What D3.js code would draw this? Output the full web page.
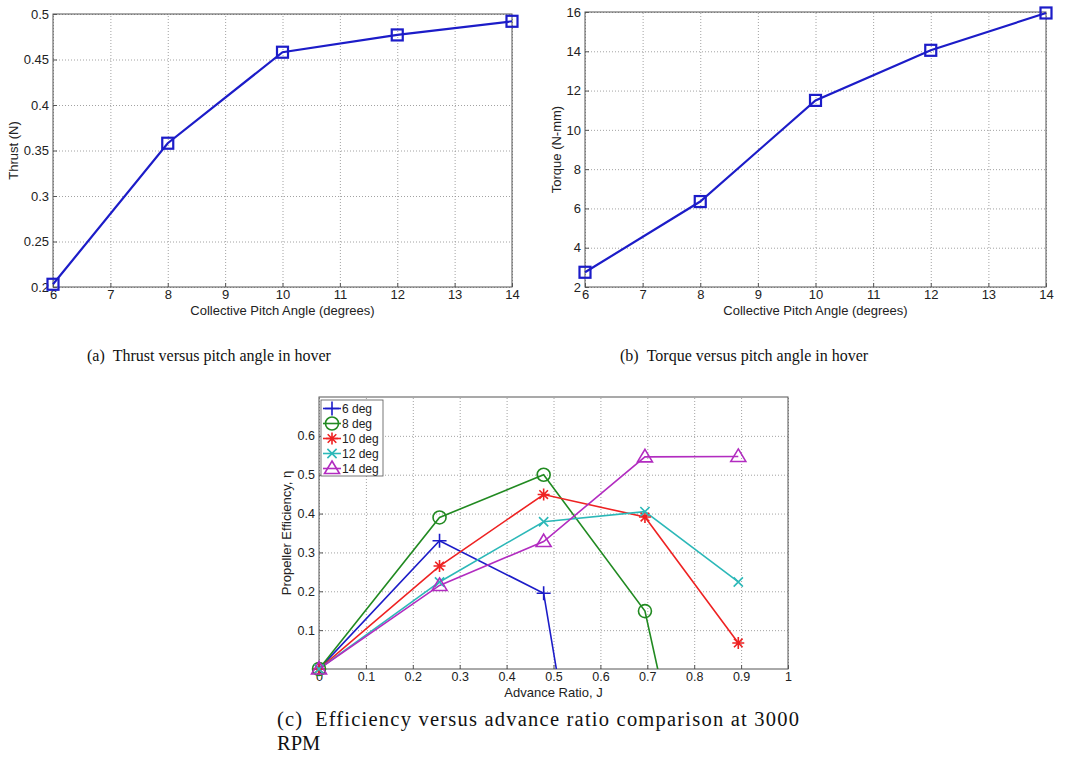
<!DOCTYPE html>
<html>
<head>
<meta charset="utf-8">
<script src="https://cdn.jsdelivr.net/npm/d3@7"></script>
<style>
  html, body { margin: 0; padding: 0; background: #fff; }
  svg { display: block; }
</style>
</head>
<body>
<svg id="fig" width="1072" height="769"></svg>
<script>
// ---------- data ----------
const pitchAngles = [6, 8, 10, 12, 14];
const thrust = [0.203, 0.358, 0.458, 0.477, 0.492];
const torque = [2.75, 6.35, 11.5, 14.05, 15.95];

const pitchTicks = [6, 7, 8, 9, 10, 11, 12, 13, 14];
const thrustTicks = [0.2, 0.25, 0.3, 0.35, 0.4, 0.45, 0.5];
const torqueTicks = [2, 4, 6, 8, 10, 12, 14, 16];

const advanceRatio = [0, 0.257, 0.479, 0.695, 0.894];
const eff6 = [0, 0.330, 0.195, -1.36];
const eff8 = [0, 0.390, 0.500, 0.149, -0.94];
const eff10 = [0, 0.265, 0.449, 0.391, 0.067];
const eff12 = [0, 0.224, 0.379, 0.405, 0.224];
const eff14 = [0, 0.215, 0.328, 0.546, 0.547];
const effLabels = ["6 deg", "8 deg", "10 deg", "12 deg", "14 deg"];
const effColors = ["#1c1cc8", "#218a21", "#ee2222", "#2cb8b8", "#b22cc0"];
const effMarkers = ["plus", "circle", "star", "x", "triangle"];
const jTicks = [0, 0.1, 0.2, 0.3, 0.4, 0.5, 0.6, 0.7, 0.8, 0.9, 1];
const effTicks = [0.1, 0.2, 0.3, 0.4, 0.5, 0.6];

const captionA = "(a)\u2002Thrust versus pitch angle in hover";
const captionB = "(b)\u2002Torque versus pitch angle in hover";
const captionC1 = "(c)\u2002Efficiency versus advance ratio comparison at 3000";
const captionC2 = "RPM";

// ---------- helpers ----------
const svg = d3.select("#fig");
const SANS = "Liberation Sans, Arial, sans-serif";
const SERIF = "Liberation Serif, Times New Roman, serif";
const AXC = "#555";
const GRIDC = "#8a8a8a";

function panel(opt) {
  const g = svg.append("g");
  const x = d3.scaleLinear().domain(opt.xDomain).range([opt.left, opt.right]);
  const y = d3.scaleLinear().domain(opt.yDomain).range([opt.bottom, opt.top]);
  // grid
  const gx = g.append("g").attr("transform", `translate(0,${opt.bottom})`)
    .call(d3.axisBottom(x).tickValues(opt.xTicks).tickSize(-(opt.bottom - opt.top)).tickFormat(""));
  const gy = g.append("g").attr("transform", `translate(${opt.left},0)`)
    .call(d3.axisLeft(y).tickValues(opt.yGrid || opt.yTicks).tickSize(-(opt.right - opt.left)).tickFormat(""));
  [gx, gy].forEach(a => {
    a.select(".domain").remove();
    a.selectAll("line").attr("stroke", GRIDC).attr("stroke-width", 0.8).attr("stroke-dasharray", "1,2");
  });
  // box
  g.append("rect").attr("x", opt.left).attr("y", opt.top)
    .attr("width", opt.right - opt.left).attr("height", opt.bottom - opt.top)
    .attr("fill", "none").attr("stroke", AXC).attr("stroke-width", 1);
  // tick labels
  const ax = g.append("g").attr("transform", `translate(0,${opt.bottom})`)
    .call(d3.axisBottom(x).tickValues(opt.xTicks).tickSize(-4).tickPadding(3).tickFormat(opt.xFmt || d3.format("")));
  const ay = g.append("g").attr("transform", `translate(${opt.left},0)`)
    .call(d3.axisLeft(y).tickValues(opt.yTicks).tickSize(-4).tickPadding(3).tickFormat(opt.yFmt || d3.format("")));
  [ax, ay].forEach(a => {
    a.select(".domain").remove();
    a.selectAll("line").attr("stroke", AXC);
    a.selectAll("text").attr("font-family", SANS).attr("font-size", opt.tickSize || 13).attr("fill", "#222");
  });
  ay.selectAll("text").attr("x", -4);
  // axis labels
  g.append("text").attr("x", (opt.left + opt.right) / 2).attr("y", opt.bottom + opt.xLabelDy)
    .attr("text-anchor", "middle").attr("font-family", SANS).attr("font-size", opt.labelSize || 13)
    .attr("fill", "#222").text(opt.xLabel);
  g.append("text")
    .attr("transform", `translate(${opt.left - opt.yLabelDx},${(opt.top + opt.bottom) / 2}) rotate(-90)`)
    .attr("text-anchor", "middle").attr("font-family", SANS).attr("font-size", opt.labelSize || 13)
    .attr("fill", "#222").text(opt.yLabel);
  return { g, x, y };
}

function marker(sel, type, color, cx, cy) {
  const m = sel.append("g").attr("transform", `translate(${cx},${cy})`)
    .attr("stroke", color).attr("fill", "none").attr("stroke-width", 1.6);
  if (type === "square") {
    m.attr("stroke-width", 2.2);
    m.append("rect").attr("x", -5.5).attr("y", -5.5).attr("width", 11).attr("height", 11);
  } else if (type === "plus") {
    m.append("path").attr("d", "M-7,0H7M0,-7V7");
  } else if (type === "circle") {
    m.append("circle").attr("r", 6.5);
  } else if (type === "star") {
    m.append("path").attr("d", "M-6,0H6M0,-6V6M-4.3,-4.3L4.3,4.3M-4.3,4.3L4.3,-4.3");
  } else if (type === "x") {
    m.append("path").attr("d", "M-4.6,-4.6L4.6,4.6M-4.6,4.6L4.6,-4.6");
  } else if (type === "triangle") {
    m.append("path").attr("d", "M0,-7.5L7.5,5L-7.5,5Z");
  }
  return m;
}

// ---------- panel (a) ----------
const A = panel({
  left: 53, right: 512, top: 14, bottom: 287,
  xDomain: [6, 14], yDomain: [0.2, 0.5],
  xTicks: pitchTicks, yTicks: thrustTicks,
  xLabel: "Collective Pitch Angle (degrees)", yLabel: "Thrust (N)",
  xLabelDy: 28, yLabelDx: 35
});
const thrustPts = pitchAngles.map((p, i) => [A.x(p), A.y(thrust[i])]);
A.g.append("path").attr("d", d3.line()(thrustPts)).attr("fill", "none")
  .attr("stroke", "#1c1cc8").attr("stroke-width", 2.2);
thrustPts.forEach(p => marker(A.g, "square", "#1c1cc8", p[0], p[1]));

// ---------- panel (b) ----------
const B = panel({
  left: 585, right: 1046, top: 12, bottom: 287,
  xDomain: [6, 14], yDomain: [2, 16],
  xTicks: pitchTicks, yTicks: torqueTicks,
  xLabel: "Collective Pitch Angle (degrees)", yLabel: "Torque (N-mm)",
  xLabelDy: 28, yLabelDx: 24
});
const torquePts = pitchAngles.map((p, i) => [B.x(p), B.y(torque[i])]);
B.g.append("path").attr("d", d3.line()(torquePts)).attr("fill", "none")
  .attr("stroke", "#1c1cc8").attr("stroke-width", 2.2);
torquePts.forEach(p => marker(B.g, "square", "#1c1cc8", p[0], p[1]));

// ---------- panel (c) ----------
const C = panel({
  left: 319, right: 788, top: 397, bottom: 669,
  xDomain: [0, 1], yDomain: [0, 0.7],
  xTicks: jTicks, yTicks: effTicks, yGrid: [0.1, 0.2, 0.3, 0.4, 0.5, 0.6],
  xFmt: d3.format(""), yFmt: d3.format(""),
  xLabel: "Advance Ratio, J", yLabel: "Propeller Efficiency, \u03b7",
  xLabelDy: 28, yLabelDx: 28, tickSize: 12.5, labelSize: 13
});
svg.append("clipPath").attr("id", "clipC").append("rect")
  .attr("x", 319).attr("y", 397).attr("width", 469).attr("height", 272);
const effSeries = [eff6, eff8, eff10, eff12, eff14];
const lineLayer = C.g.append("g").attr("clip-path", "url(#clipC)");
effSeries.forEach((vals, si) => {
  const pts = vals.map((v, i) => [C.x(advanceRatio[i]), C.y(v)]);
  lineLayer.append("path").attr("d", d3.line()(pts)).attr("fill", "none")
    .attr("stroke", effColors[si]).attr("stroke-width", 1.6);
});
effSeries.forEach((vals, si) => {
  vals.forEach((v, i) => {
    if (v >= 0) marker(C.g, effMarkers[si], effColors[si], C.x(advanceRatio[i]), C.y(v));
  });
});
// legend
const leg = C.g.append("g");
leg.append("rect").attr("x", 321).attr("y", 400).attr("width", 62).attr("height", 76)
  .attr("fill", "#fff").attr("stroke", AXC).attr("stroke-width", 0.8);
effLabels.forEach((lab, i) => {
  const yy = 408.5 + i * 15;
  leg.append("line").attr("x1", 323).attr("x2", 341).attr("y1", yy).attr("y2", yy)
    .attr("stroke", effColors[i]).attr("stroke-width", 1.6);
  marker(leg, effMarkers[i], effColors[i], 332, yy);
  leg.append("text").attr("x", 342).attr("y", yy + 4.5).attr("font-family", SANS)
    .attr("font-size", 12).attr("fill", "#222").text(lab);
});

// ---------- captions ----------
svg.append("text").attr("x", 87).attr("y", 361).attr("font-family", SERIF)
  .attr("font-size", 16).attr("fill", "#111").text(captionA);
svg.append("text").attr("x", 620).attr("y", 361).attr("font-family", SERIF)
  .attr("font-size", 16).attr("fill", "#111").text(captionB);
svg.append("text").attr("x", 277).attr("y", 726).attr("font-family", SERIF)
  .attr("font-size", 20.5).attr("fill", "#111")
  .attr("textLength", 522).attr("lengthAdjust", "spacing").text(captionC1);
svg.append("text").attr("x", 277).attr("y", 750).attr("font-family", SERIF)
  .attr("font-size", 20.5).attr("fill", "#111").text(captionC2);
</script>
</body>
</html>
